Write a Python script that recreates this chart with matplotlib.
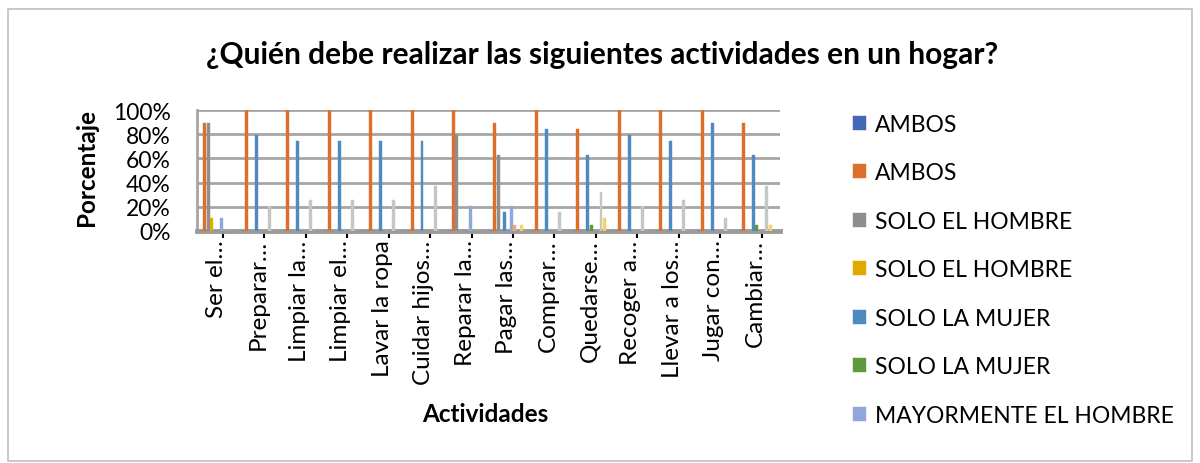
import numpy as np
import matplotlib
matplotlib.use('Agg')
import matplotlib.pyplot as plt
from matplotlib.patches import Rectangle

plt.rcParams['font.family'] = ['Lato', 'DejaVu Sans']

# ── Données (pourcentages) ────────────────────────────────────────────
actividades = ["Ser el…", "Preparar…", "Limpiar la…", "Limpiar el…", "Lavar la ropa",
               "Cuidar hijos…", "Reparar la…", "Pagar las…", "Comprar…", "Quedarse…",
               "Recoger a…", "Llevar a los…", "Jugar con…", "Cambiar…"]

ambos_a        = [0, 0, 0, 0, 0, 0, 0, 0, 0, 0, 0, 0, 0, 0]
ambos_b        = [89, 100, 100, 100, 100, 100, 100, 89, 100, 84, 100, 100, 100, 89]
hombre_a       = [89, 0, 0, 0, 0, 0, 79, 63, 0, 0, 0, 0, 0, 0]
hombre_b       = [11, 0, 0, 0, 0, 0, 0, 0, 0, 0, 0, 0, 0, 0]
mujer_a        = [0, 79, 74, 74, 74, 74, 0, 16, 84, 63, 79, 74, 89, 63]
mujer_b        = [0, 0, 0, 0, 0, 0, 0, 0, 0, 5, 0, 0, 0, 5]
may_hombre_a   = [11, 0, 0, 0, 0, 0, 21, 21, 0, 0, 0, 0, 0, 0]
may_hombre_b   = [0, 0, 0, 0, 0, 0, 0, 5, 0, 0, 0, 0, 0, 0]
may_mujer_a    = [0, 21, 26, 26, 26, 37, 0, 0, 16, 32, 21, 26, 11, 37]
may_mujer_b    = [0, 0, 0, 0, 0, 0, 0, 5, 0, 11, 0, 0, 0, 5]

series = [ambos_a, ambos_b, hombre_a, hombre_b, mujer_a, mujer_b,
          may_hombre_a, may_hombre_b, may_mujer_a, may_mujer_b]
noms = ["AMBOS", "AMBOS", "SOLO EL HOMBRE", "SOLO EL HOMBRE", "SOLO LA MUJER",
        "SOLO LA MUJER", "MAYORMENTE EL HOMBRE", "MAYORMENTE EL HOMBRE",
        "MAYORMENTE LA MUJER", "MAYORMENTE LA MUJER"]
couleurs = ['#4169B5', '#DD6F2B', '#8E8E8E', '#E3A800', '#4F8BC0', '#5E9A3C',
            '#8FA7DA', '#F0A77A', '#C6C6C6', '#F8D068']

# ── Figure ────────────────────────────────────────────────────────────
W, H = 1200, 464
fig = plt.figure(figsize=(W / 100, H / 100), dpi=100)
fig.patches.append(Rectangle((8 / W, 2 / H), 1184 / W, (462 - 10) / H,
                             transform=fig.transFigure, fill=False,
                             edgecolor='#BFBFBF', linewidth=1.2))

ax = fig.add_axes([197 / W, 1 - 232 / H, (780 - 197) / W, (232 - 111) / H])

x = np.arange(len(actividades))
slot = 0.08
for j, (vals, col) in enumerate(zip(series, couleurs)):
    ax.bar(x + (j - 4.5) * slot, vals, width=slot * 0.9, color=col,
           edgecolor=col, linewidth=0.3, zorder=3, label=noms[j])

ax.set_xlim(-0.47, 13.6)
ax.set_ylim(0, 100)
ax.set_yticks(range(0, 101, 20))
ax.set_yticklabels([f"{v}%" for v in range(0, 101, 20)], fontsize=16.5)
ax.yaxis.grid(True, color='#A6A6A6', linewidth=2, zorder=0)
ax.set_axisbelow(True)

ax.set_xticks(x)
ax.set_xticklabels(actividades, rotation=90, fontsize=17.5, va='top', ha='center')
ax.set_xticks(x + 0.155, minor=True)
ax.tick_params(axis='x', which='major', length=0, pad=6)
ax.tick_params(axis='x', which='minor', length=5, width=1.5, color='black')
ax.tick_params(axis='y', length=0, pad=19)

for s in ['top', 'right']:
    ax.spines[s].set_visible(False)
ax.spines['left'].set_color('#A6A6A6')
ax.spines['left'].set_linewidth(2)
ax.spines['bottom'].set_color('#9A9A9A')
ax.spines['bottom'].set_linewidth(3.5)

# ── Textes ────────────────────────────────────────────────────────────
fig.text(602 / W, 1 - 55 / H, "¿Quién debe realizar las siguientes actividades en un hogar?",
         ha='center', va='center', fontsize=21.5, fontweight='bold')
fig.text(87 / W, 1 - 167 / H, "Porcentaje", rotation=90, ha='center', va='center',
         fontsize=17.5, fontweight='bold')
fig.text(485 / W, 1 - 415 / H, "Actividades", ha='center', va='center',
         fontsize=17.5, fontweight='bold')

# ── Légende (7 premières séries seulement, comme dans l'original) ─────
handles, labels = ax.get_legend_handles_labels()
fig.legend(handles[:7], labels[:7], loc='upper left',
           bbox_to_anchor=(853 / W, 1 - 115 / H), frameon=False, fontsize=16.5,
           handlelength=0.55, handleheight=0.55, handletextpad=0.4,
           labelspacing=1.2, borderpad=0, borderaxespad=0)

fig.savefig('out.png', dpi=100)
